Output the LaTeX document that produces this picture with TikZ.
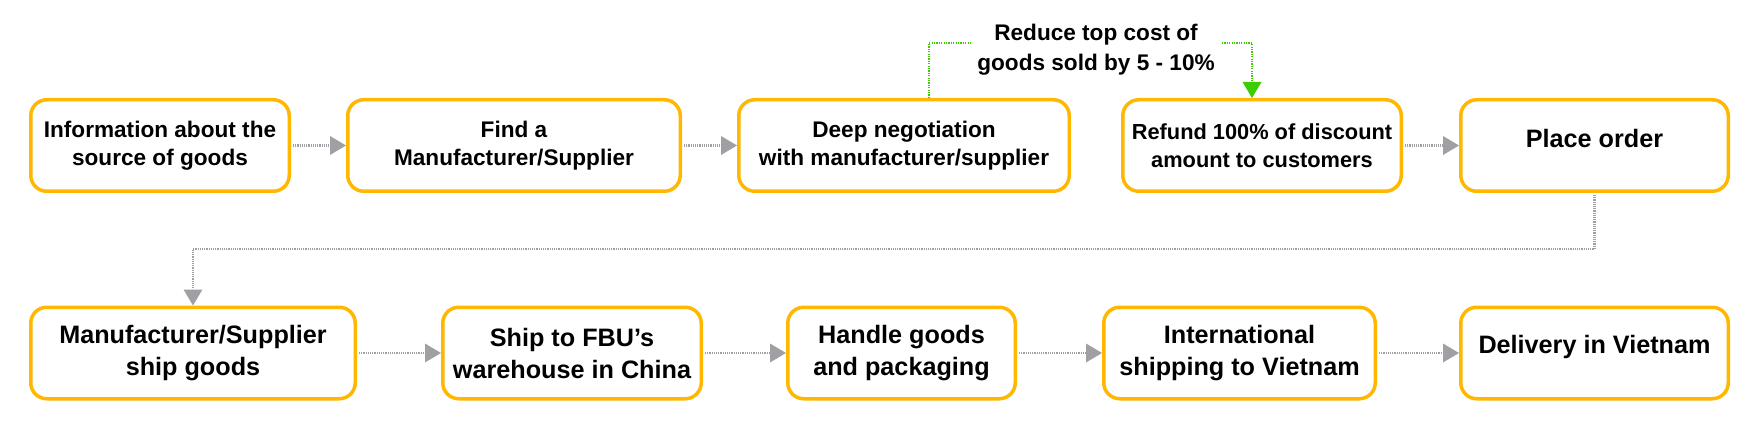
\documentclass[tikz,border=0pt]{standalone}
\usepackage{fontspec}
\setmainfont{Liberation Sans}
\usetikzlibrary{arrows.meta}
\definecolor{boxorange}{RGB}{255,183,0}
\definecolor{conngray}{RGB}{160,160,164}
\definecolor{notegreen}{RGB}{60,205,0}
\tikzset{
  stepbox/.style={draw=boxorange, line width=1.75pt, rounded corners=8pt, fill=white,
    minimum height=45.75pt, inner sep=0pt, align=center,
    font=\fontsize{11.3}{14}\selectfont\bfseries},
  bigtext/.style={font=\fontsize{12.6}{16}\selectfont\bfseries},
  narrowtext/.style={font=\fontsize{10.9}{14}\selectfont\bfseries},
  conn/.style={draw=conngray, line width=1.3pt, dash pattern=on 0.6pt off 0.5pt,
    -{Triangle[length=8pt,width=9.5pt,fill=conngray,line width=0pt]}, shorten <=1pt},
  noteline/.style={draw=notegreen, line width=1.1pt, dash pattern=on 0.6pt off 0.6pt},
  notetext/.style={inner sep=0pt, align=center, font=\fontsize{11.3}{15}\selectfont\bfseries}
}
\begin{document}
\begin{tikzpicture}[x=0.5pt,y=-0.5pt]
\useasboundingbox (0,0) rectangle (1749,438);
% row 1
\node[stepbox, minimum width=129.25pt] (b1) at (160,145.5) {Information about the\\source of goods};
\node[stepbox, minimum width=166.25pt] (b2) at (514,145.5) {Find a\\Manufacturer/Supplier};
\node[stepbox, minimum width=165.25pt] (b3) at (904,145.5) {Deep negotiation\\with manufacturer/supplier};
\node[stepbox, narrowtext, minimum width=139.25pt] (b4) at (1262,145.5) {Refund 100\% of discount\\amount to customers};
\node[stepbox, bigtext, minimum width=133.75pt, text height=9.3pt, text depth=7.5pt] (b5) at (1594.5,145.5) {Place order};
% row 2
\node[stepbox, bigtext, minimum width=162.25pt] (b6) at (193,353) {Manufacturer/Supplier\\ship goods};
\node[stepbox, bigtext, minimum width=129.25pt] (b7) at (572,353) {Ship to FBU’s\\warehouse in China};
\node[stepbox, bigtext, minimum width=113.75pt] (b8) at (901.5,353) {Handle goods\\and packaging};
\node[stepbox, bigtext, minimum width=135.75pt] (b9) at (1239.5,353) {International\\shipping to Vietnam};
\node[stepbox, bigtext, minimum width=133.75pt, text height=9.3pt, text depth=9.3pt] (b10) at (1594.5,353) {Delivery in Vietnam};
% connectors
\draw[conn] (b1) -- (b2);
\draw[conn] (b2) -- (b3);
\draw[conn] (b4) -- (b5);
\draw[conn] (b5.south) -- (b5.south |- 0,249) -| (b6.north);
\draw[conn] (b6) -- (b7);
\draw[conn] (b7) -- (b8);
\draw[conn] (b8) -- (b9);
\draw[conn] (b9) -- (b10);
% note
\node[notetext] (lbl) at (1096,50) {Reduce top cost of\\goods sold by 5 - 10\%};
\coordinate (gl) at (971,43);
\coordinate (gr) at (1222,43);
\draw[noteline] (b3.north -| 929,0) |- (gl);
\draw[noteline, -{Triangle[length=8pt,width=9.5pt,fill=notegreen,line width=0pt]}] (gr) -| (b4.north -| 1252,0);
\end{tikzpicture}
\end{document}
